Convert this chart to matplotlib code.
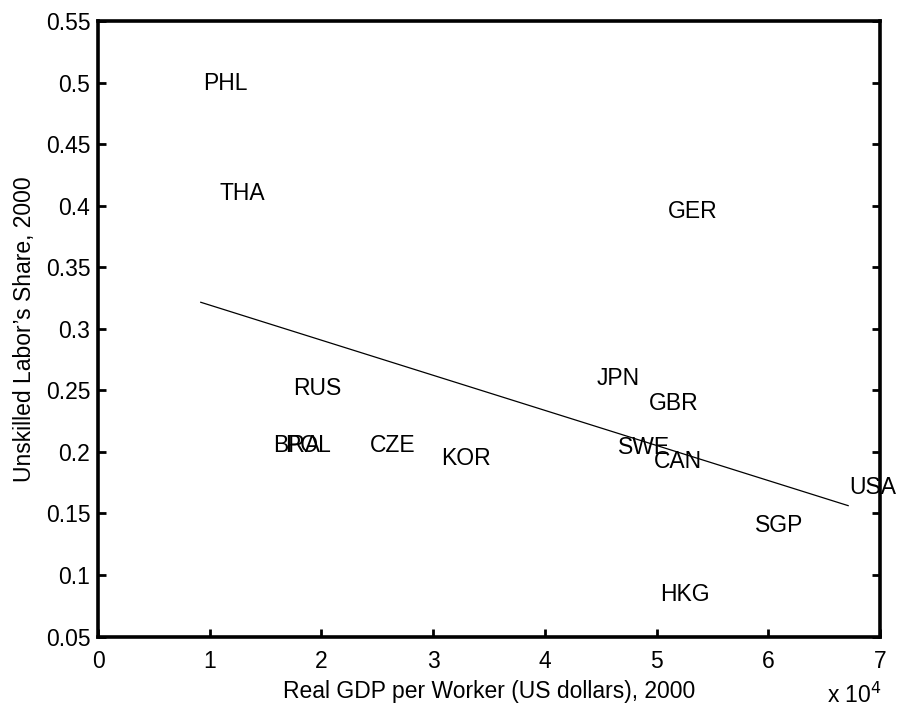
import matplotlib
matplotlib.use("Agg")
import matplotlib.pyplot as plt
from matplotlib.ticker import FuncFormatter, FixedLocator

plt.rcParams['font.family'] = ['Liberation Sans', 'DejaVu Sans']

countries = ["PHL", "THA", "GER", "RUS", "BRA", "POL", "CZE", "KOR",
             "JPN", "GBR", "SWE", "CAN", "USA", "SGP", "HKG"]
gdp_per_worker = [9370, 10920, 51020, 17430, 15640, 16740, 24350, 30680,
                  44640, 49320, 46570, 49770, 67220, 58810, 50310]
unskilled_share = [0.499, 0.410, 0.395, 0.2516, 0.2053, 0.2053, 0.2053, 0.1947,
                   0.2598, 0.2394, 0.2037, 0.1919, 0.1711, 0.1402, 0.0841]

fit_x = [9200, 67150]
fit_y = [0.3215, 0.1563]

xticks = [0, 1, 2, 3, 4, 5, 6, 7]
yticks = [0.05, 0.1, 0.15, 0.2, 0.25, 0.3, 0.35, 0.4, 0.45, 0.5, 0.55]
ytick_labels = ["0.05", "0.1", "0.15", "0.2", "0.25", "0.3", "0.35", "0.4", "0.45", "0.5", "0.55"]

W, H = 897, 709
fig = plt.figure(figsize=(W / 100, H / 100), dpi=100)
ax = fig.add_axes([98 / W, 1 - 636.5 / H, (880 - 98) / W, (636.5 - 21) / H])

fs = 16.5
for name, x, y in zip(countries, gdp_per_worker, unskilled_share):
    ax.text(x, y, name, ha='left', va='center', fontsize=fs, color='black')

ax.plot(fit_x, fit_y, color='black', linewidth=0.9)

ax.set_xlim(0, 70000)
ax.set_ylim(0.05, 0.55)
ax.xaxis.set_major_locator(FixedLocator([t * 1e4 for t in xticks]))
ax.xaxis.set_major_formatter(FuncFormatter(lambda v, p: f"{v / 1e4:g}"))
ax.set_yticks(yticks)
ax.set_yticklabels(ytick_labels)

for s in ax.spines.values():
    s.set_linewidth(2.6)
ax.tick_params(direction='in', length=6, width=2, labelsize=fs,
               top=False, right=True)
ax.tick_params(axis='y', pad=5.5)
ax.tick_params(axis='x', pad=10)

ax.set_xlabel("Real GDP per Worker (US dollars), 2000", fontsize=fs, labelpad=5)
ax.set_ylabel("Unskilled Labor\u2019s Share, 2000", fontsize=fs, labelpad=7)

fig.text(827 / W, 1 - 695 / H, r"x 10$^{4}$", fontsize=fs, ha='left', va='center')

fig.savefig("out.png", dpi=100)
